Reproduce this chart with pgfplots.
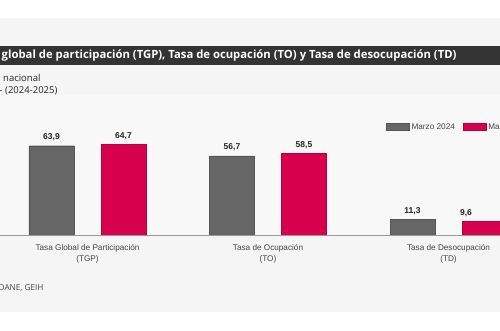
\documentclass[border=0pt]{standalone}
\usepackage{fontspec}
\setmainfont{Liberation Sans}
\newfontfamily\osans{Open Sans}
\usepackage{pgfplots}
\usepackage{pgfplotstable}
\pgfplotsset{compat=1.18}
\definecolor{panel}{HTML}{F5F5F5}
\definecolor{plotbg}{HTML}{F8F8F8}
\definecolor{titlebar}{HTML}{333333}
\definecolor{gbar}{HTML}{666666}
\definecolor{gedge}{HTML}{555555}
\definecolor{rbar}{HTML}{D6004C}
\definecolor{redge}{HTML}{B8003F}
\definecolor{txt}{HTML}{444444}
\pgfplotstableread{
x y dx
0 63.9 0
1 56.7 0
2 11.3 0
}\tablegray
\pgfplotstableread{
x y dx
0 64.7 0
1 58.5 0
2 9.6 -18.5
}\tablered
\begin{document}
\begin{tikzpicture}
\useasboundingbox (0pt,0pt) rectangle (500pt,331pt);
\clip (0pt,0pt) rectangle (500pt,331pt);
\fill[white] (0pt,0pt) rectangle (500pt,331pt);
\fill[panel] (0pt,19pt) rectangle (500pt,313pt);
\fill[plotbg] (0pt,96pt) rectangle (500pt,236pt);
\fill[titlebar] (0pt,266pt) rectangle (500pt,285pt);
\node[anchor=west, text=white, font=\osans\bfseries\fontsize{11.3}{13}\selectfont, inner sep=0] at (1.5pt,275.5pt) {global de participación (TGP), Tasa de ocupación (TO) y Tasa de desocupación (TD)};
\node[anchor=base west, text=black!85, font=\osans\fontsize{9.5}{11}\selectfont, inner sep=0] at (3pt,249pt) {nacional};
\node[anchor=base west, text=black!85, font=\osans\fontsize{9.5}{11}\selectfont, inner sep=0] at (-0.5pt,237pt) {- (2024-2025)};
\node[anchor=base west, text=txt, font=\osans\fontsize{8.2}{10}\selectfont, inner sep=0] at (-1.5pt,40pt) {DANE, GEIH};
\begin{axis}[
  at={(87.5pt,96pt)}, anchor=origin, scale only axis,
  width=500pt, height=139.7pt,
  xmin=-0.4848, xmax=2.2853, ymin=0, ymax=100,
  ybar=27pt, bar width=45pt,
  axis x line*=bottom, axis y line=none,
  x axis line style={draw=black!40, line width=0.8pt, -},
  xtick={0,1,2}, major tick length=0,
  xticklabels={{Tasa Global de Participación\\(TGP)},{Tasa de Ocupación\\(TO)},{Tasa de Desocupación\\(TD)}},
  xticklabel style={align=center, font=\fontsize{8.2}{11}\selectfont, text=txt, yshift=-6pt},
  nodes near coords,
  visualization depends on={\thisrow{dx} \as \dx},
  every node near coord/.append style={font=\bfseries\fontsize{8.5}{10}\selectfont, text=black!85, yshift=1pt, xshift=\dx pt},
  legend columns=2,
  legend style={at={(0.772,0.773)}, anchor=west, draw=none, fill=none, font=\fontsize{8.2}{10}\selectfont, text=txt, inner sep=0pt, /tikz/every even column/.append style={column sep=6pt}},
  legend image code/.code={\draw[#1] (0pt,-3.5pt) rectangle (23pt,3.5pt);},
  /pgf/number format/use comma,
  /pgf/number format/fixed,
  /pgf/number format/fixed zerofill,
  /pgf/number format/precision=1,
  /pgf/number format/assume math mode=true,
]
\addplot[fill=gbar, draw=gedge] table[x=x, y=y] {\tablegray};
\addplot[fill=rbar, draw=redge] table[x=x, y=y] {\tablered};
\legend{Marzo 2024, Marzo 2025}
\end{axis}
\end{tikzpicture}
\end{document}
